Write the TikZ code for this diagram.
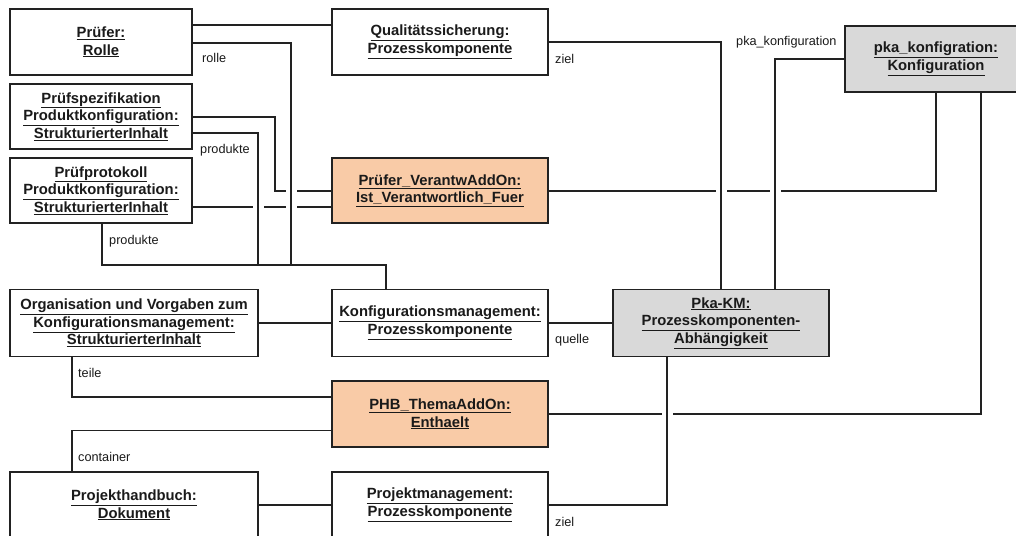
\documentclass[tikz,border=0pt]{standalone}
\usepackage{fontspec}
\setmainfont{Liberation Sans}
\definecolor{linec}{HTML}{222222}
\definecolor{txt}{HTML}{1A1A1A}
\definecolor{peach}{HTML}{F9CBA7}
\definecolor{lgray}{HTML}{D9D9D9}
\newcommand{\uln}[1]{\underline{#1}}
\tikzset{
  box/.style={draw=linec, line width=1.3pt, fill=white, inner sep=0pt, align=center,
    font=\bfseries\fontsize{14.8}{17.7}\selectfont, text=txt},
  conn/.style={draw=linec, line width=1.2pt},
  lbl/.style={anchor=west, font=\fontsize{12.7}{15}\selectfont, inner sep=0pt, text=txt},
  gap/.style={fill=white, draw=none},
}
\begin{document}
\begin{tikzpicture}[x=1pt,y=-1pt]
\useasboundingbox (0,0) rectangle (1016,535);
\fill[white] (0,0) rectangle (1016,535);

% ---- nodes ----
\node[box, minimum width=182pt, minimum height=66pt] (pruefer) at (101,42) {\uln{Prüfer:}\\\uln{Rolle}};
\node[box, minimum width=182pt, minimum height=65pt] (pspez) at (101,116.5) {\uln{Prüfspezifikation}\\\uln{Produktkonfiguration:}\\\uln{StrukturierterInhalt}};
\node[box, minimum width=182pt, minimum height=65pt] (pprot) at (101,190.5) {\uln{Prüfprotokoll}\\\uln{Produktkonfiguration:}\\\uln{StrukturierterInhalt}};
\node[box, minimum width=216pt, minimum height=66pt] (qs) at (440,42) {\uln{Qualitätssicherung:}\\\uln{Prozesskomponente}};
\node[box, fill=peach, minimum width=216pt, minimum height=65pt] (verantw) at (440,190.5) {\uln{Prüfer\_VerantwAddOn:}\\\uln{Ist\_Verantwortlich\_Fuer}};
\node[box, fill=lgray, minimum width=182pt, minimum height=66pt] (pka) at (936,59) {\uln{pka\_konfigration:}\\\uln{Konfiguration}};
\node[box, minimum width=248pt, minimum height=67pt] (org) at (134,323) {\uln{Organisation und Vorgaben zum}\\\uln{Konfigurationsmanagement:}\\\uln{StrukturierterInhalt}};
\node[box, minimum width=216pt, minimum height=67pt] (km) at (440,323) {\uln{Konfigurationsmanagement:}\\\uln{Prozesskomponente}};
\node[box, fill=lgray, minimum width=216pt, minimum height=67pt] (pkakm) at (721,323) {\uln{Pka-KM:}\\\uln{Prozesskomponenten-}\\\uln{Abhängigkeit}};
\node[box, fill=peach, minimum width=216pt, minimum height=66pt] (phb) at (440,414) {\uln{PHB\_ThemaAddOn:}\\\uln{Enthaelt}};
\node[box, minimum width=248pt, minimum height=66pt] (phbuch) at (134,505) {\uln{Projekthandbuch:}\\\uln{Dokument}};
\node[box, minimum width=216pt, minimum height=66pt] (pm) at (440,505) {\uln{Projektmanagement:}\\\uln{Prozesskomponente}};

% ---- connectors crossed by others (drawn first) ----
\draw[conn] (pspez.east |- 0,117) -- (275,117) -- (275,191) -- (verantw.west |- 0,191);
\draw[conn] (pprot.east |- 0,207) -- (verantw.west |- 0,207);
\draw[conn] (verantw.east |- 0,191) -| (pka.south);
\draw[conn] (pka.south -| 981,0) |- (phb.east);

% ---- crossing gaps ----
\fill[gap] (286,186) rectangle (296.5,195);
\fill[gap] (253,202) rectangle (263.5,211);
\fill[gap] (286,202) rectangle (296.5,211);
\fill[gap] (716,186) rectangle (726.5,195);
\fill[gap] (770,186) rectangle (780.5,195);
\fill[gap] (662,409) rectangle (672.5,418);

% ---- other connectors ----
\draw[conn] (pruefer.east |- 0,25) -- (qs.west |- 0,25);
\draw[conn] (pruefer.east |- 0,43) -- (291,43) -- (291,265) -- (386,265) -- (km.north -| 386,0);
\draw[conn] (pspez.east |- 0,133) -- (258,133) -- (258,265);
\draw[conn] (pprot.south -| 102,0) -- (102,265) -- (291,265);
\draw[conn] (qs.east) -| (pkakm.north);
\draw[conn] (pka.west) -| (pkakm.north -| 775,0);
\draw[conn] (pkakm.south -| 667,0) |- (pm.east);
\draw[conn] (km.east) -- (pkakm.west);
\draw[conn] (org.east) -- (km.west);
\draw[conn] (org.south -| 72,0) |- (phb.west |- 0,397);
\draw[conn] (phb.west |- 0,430.5) -| (phbuch.north -| 72,0);
\draw[conn] (phbuch.east) -- (pm.west);

% ---- labels ----
\node[lbl] (lrolle) at (202,58) {rolle};
\node[lbl] (lprod1) at (200,150) {produkte};
\node[lbl] (lprod2) at (109,241) {produkte};
\node[lbl] (lziel1) at (555,59) {ziel};
\node[lbl] (lpka) at (736,42) {pka\_konfiguration};
\node[lbl] (lquelle) at (555,340) {quelle};
\node[lbl] (lteile) at (78,373) {teile};
\node[lbl] (lcont) at (78,457) {container};
\node[lbl] (lziel2) at (555,522) {ziel};
\end{tikzpicture}
\end{document}
